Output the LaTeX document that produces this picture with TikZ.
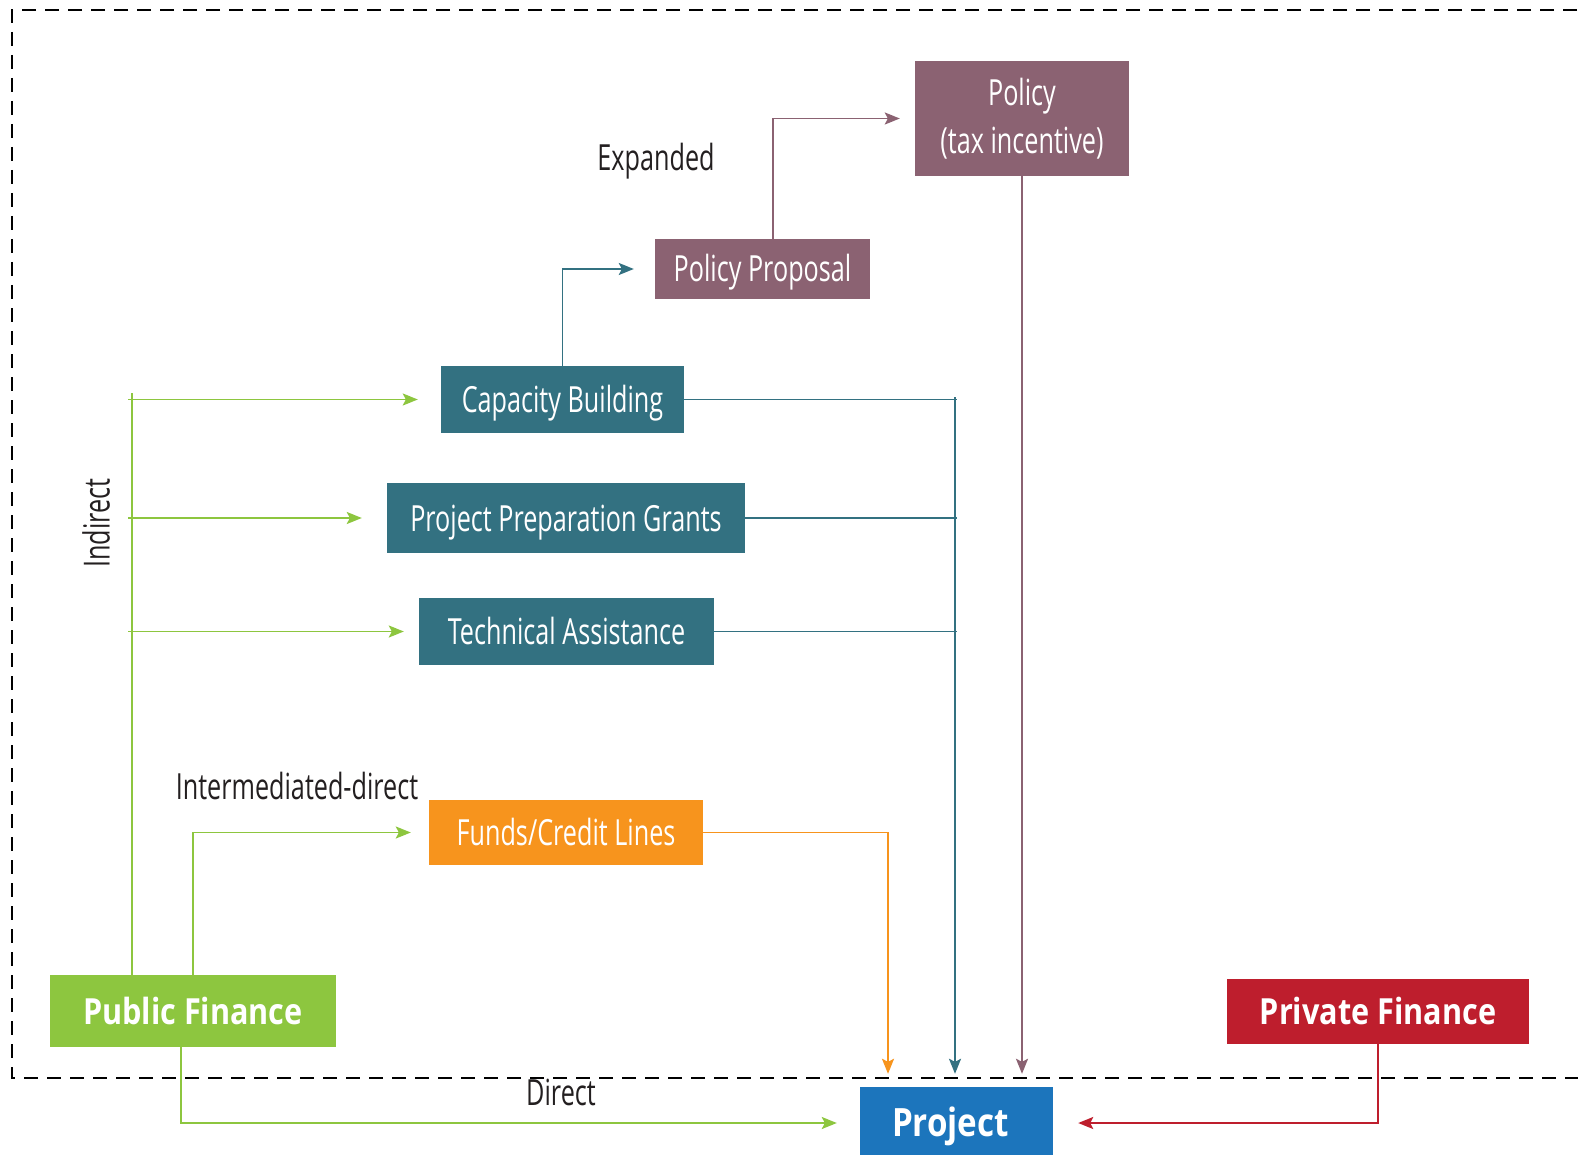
\documentclass[tikz,border=0pt]{standalone}
\usepackage{fontspec}
\setmainfont[FakeStretch=0.7]{Open Sans}
\newfontfamily\boldcond[FakeStretch=0.85]{Open Sans}
\usetikzlibrary{arrows.meta}
\definecolor{cmauve}{HTML}{8B6272}
\definecolor{cteal}{HTML}{337181}
\definecolor{corange}{HTML}{F7941D}
\definecolor{cgreen}{HTML}{8DC63F}
\definecolor{cred}{HTML}{BE1E2D}
\definecolor{cblue}{HTML}{1C75BC}
\definecolor{cink}{HTML}{231F20}
\tikzset{
  box/.style={fill=#1, text=white, inner sep=0pt, font=\fontsize{36}{48}\selectfont, align=center},
  oneline/.style={text height=34pt, text depth=8pt},
  bbox/.style={fill=#1, text=white, inner sep=0pt, oneline, font=\boldcond\bfseries\fontsize{36}{44}\selectfont},
  lab/.style={text=cink, inner sep=0pt, font=\fontsize{36}{44}\selectfont},
  conn/.style={draw=#1, line width=1.8pt},
  arr/.style={conn=#1, -{Stealth[length=15pt,width=12pt,inset=3pt]}},
}
\begin{document}
\begin{tikzpicture}[x=1pt,y=-1pt]
\useasboundingbox (0,0) rectangle (1578,1155);
\draw[line width=1.8pt, dash pattern=on 14pt off 9pt] (1600,10) -- (12,10) -- (12,1078) -- (1600,1078);

% nodes
\node[box=cmauve, minimum width=214pt, minimum height=115pt] (pol) at (1022,118.5) {Policy\\(tax incentive)};
\node[box=cmauve, oneline, minimum width=215pt, minimum height=60pt] (pp) at (762.5,269) {Policy Proposal};
\node[box=cteal, oneline, minimum width=243pt, minimum height=67pt] (cb) at (562.5,399.5) {Capacity Building};
\node[box=cteal, oneline, minimum width=358pt, minimum height=70pt] (ppg) at (566,518) {Project Preparation Grants};
\node[box=cteal, oneline, minimum width=295pt, minimum height=67pt] (ta) at (566.5,631.5) {Technical Assistance};
\node[box=corange, oneline, minimum width=274pt, minimum height=65pt] (fc) at (566,832.5) {Funds/Credit Lines};
\node[bbox=cgreen, minimum width=286pt, minimum height=72pt] (pf) at (193,1011) {Public Finance};
\node[bbox=cred, minimum width=302pt, minimum height=65pt] (prf) at (1378,1011.5) {Private Finance};
\node[bbox=cblue, minimum width=193pt, minimum height=72pt, font=\boldcond\bfseries\fontsize{39}{44}\selectfont] (pj) at (956.5,1123) {\kern-12pt Project};

% labels
\node[lab] (lexp) at (656,161) {Expanded};
\node[lab, rotate=90] (lind) at (96,523) {Indirect};
\node[lab] (lint) at (297,786) {Intermediated-direct};
\node[lab] (ldir) at (561,1092) {Direct};

% green indirect
\coordinate (gtop) at (132,393);
\draw[conn=cgreen] (pf.north -| gtop) -- (gtop);
\draw[arr=cgreen] ([xshift=-4pt]gtop |- cb.west) -- ([xshift=-23pt]cb.west);
\draw[arr=cgreen] ([xshift=-4pt]gtop |- ppg.west) -- ([xshift=-25pt]ppg.west);
\draw[arr=cgreen] ([xshift=-4pt]gtop |- ta.west) -- ([xshift=-15pt]ta.west);
% intermediated
\draw[arr=cgreen] (pf.north) |- ([xshift=-18pt]fc.west);
% direct
\draw[arr=cgreen] ([xshift=-12pt]pf.south) |- ([xshift=-23pt]pj.west);
% private
\draw[arr=cred] (prf.south) |- ([xshift=25pt]pj.east);
% orange
\draw[arr=corange] (fc.east) -| ([xshift=-68.5pt,yshift=13pt]pj.north);
% teal
\coordinate (tv) at (955,397);
\draw[conn=cteal] (cb.east) -- ([xshift=2pt]cb.east -| tv);
\draw[conn=cteal] (ppg.east) -- ([xshift=2pt]ppg.east -| tv);
\draw[conn=cteal] (ta.east) -- ([xshift=2pt]ta.east -| tv);
\draw[arr=cteal] (tv) -- ([yshift=13pt]pj.north -| tv);
\draw[arr=cteal] (cb.north) |- ([xshift=-21pt]pp.west);
% mauve
\draw[arr=cmauve] ([xshift=10.5pt]pp.north) |- ([xshift=-15pt]pol.west);
\draw[arr=cmauve] (pol.south) -- ([yshift=13pt]pj.north -| pol.south);
\end{tikzpicture}
\end{document}
